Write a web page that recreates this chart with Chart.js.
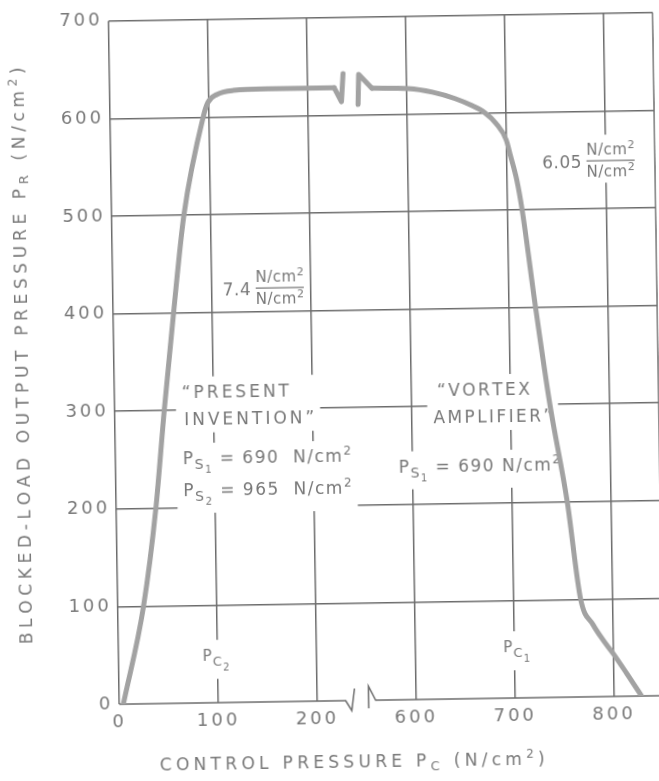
<!DOCTYPE html>
<html>
<head>
<meta charset="utf-8">
<script src="https://cdn.jsdelivr.net/npm/chart.js@4.4.1/dist/chart.umd.min.js"></script>
<style>
  html, body { margin: 0; padding: 0; background: #fff; }
  /* the scanned sheet sits a little crooked */
  #sheet { position: absolute; left: 0; top: 0; width: 659px; height: 781px;
           transform: rotate(-0.9deg); transform-origin: 385px 360px; }
</style>
</head>
<body>
<div id="sheet"><canvas id="myChart" width="659" height="781"></canvas></div>
<script>
// control pressure Pc (N/cm2) -> blocked-load output pressure Pr (N/cm2)
const inventionPc = [4, 26, 40, 50, 61, 73, 94, 99, 108, 125, 159, 210, 227];
const inventionPr = [0, 100, 200, 300, 400, 500, 600, 615, 623, 627, 628, 628, 628];

const vortexPc = [565, 602, 626, 649, 665, 679, 690, 700, 704, 710, 715, 727, 740, 756, 768, 780, 790, 800, 813, 828];
const vortexPr = [627, 626, 622, 615, 608, 600, 589, 572, 556, 531, 500, 400, 300, 200, 100, 74, 58, 44, 24, 0];

const xTicks = [0, 100, 200, 600, 700, 800];
const yTicks = [0, 100, 200, 300, 400, 500, 600, 700];

// the Pc axis is broken between 200 and 600
function axisPos(pc) { return pc < 400 ? pc / 100 : (pc - 300) / 100; }
const breakPos = 2.44;

const ink = '#6c6c6c';
const textInk = '#787878';
const curveInk = '#a2a2a2';
const FONT = '"DejaVu Sans"';

// text helpers: runs are [text, size, dy]
function runsWidth(ctx, runs, sp) {
  let w = 0;
  for (const [t, size] of runs) {
    ctx.font = size + 'px ' + FONT;
    for (const ch of t) w += ctx.measureText(ch).width + sp;
  }
  return w - sp;
}
function drawRuns(ctx, runs, x, base, sp) {
  for (const [t, size, dy = 0] of runs) {
    ctx.font = size + 'px ' + FONT;
    for (const ch of t) {
      ctx.fillText(ch, x, base + dy);
      x += ctx.measureText(ch).width + sp;
    }
  }
  return x - sp;
}
function countChars(runs) { return runs.reduce((n, r) => n + [...r[0]].length, 0); }

const sub = (t, s, d) => [t, s, d];
const notes = [
  { pc: 68, pr: 319, gap: 27, sp: 3, lines: [
      { dx: 0, runs: [['“PRESENT', 17]] },
      { dx: 2, runs: [['INVENTION”', 17]] } ] },
  { pc: 68, pr: 251, gap: 32, sp: 1.5, lines: [
      { dx: 0, runs: [['P', 17], sub('S', 14, 5), sub('1', 10, 9), [' = 690  N/cm', 17], sub('2', 12, -7)] },
      { dx: 0, runs: [['P', 17], sub('S', 14, 5), sub('2', 10, 9), [' = 965  N/cm', 17], sub('2', 12, -7)] } ] },
  { pc: 622, pr: 289, gap: -27, sp: 2.4, lines: [
      { dx: 0, runs: [['AMPLIFIER”', 17]] },
      { dx: 4, runs: [['“VORTEX', 17]] } ] },
  { pc: 586, pr: 239, gap: 0, sp: 1.5, lines: [
      { dx: 0, runs: [['P', 17], sub('S', 14, 5), sub('1', 10, 9), [' = 690 N/cm', 17], sub('2', 12, -7)] } ] },
  { pc: 85, pr: 49, gap: 0, sp: 1, lines: [
      { dx: 0, runs: [['P', 15], sub('C', 13, 5), sub('2', 10, 10)] } ] },
  { pc: 689, pr: 53, gap: 0, sp: 1, lines: [
      { dx: 0, runs: [['P', 15], sub('C', 13, 5), sub('1', 10, 10)] } ] }
];
const ratios = [
  { pc: 111, pr: 423, value: '7.4' },
  { pc: 736, pr: 548, value: '6.05' }
];
const unitRuns = [['N/cm', 15], ['2', 11, -6]];

function drawNote(ctx, chart, note) {
  const x0 = chart.scales.x.getPixelForValue(axisPos(note.pc));
  const y0 = chart.scales.y.getPixelForValue(note.pr);
  let left = Infinity, right = -Infinity, top = Infinity, bottom = -Infinity;
  const placed = note.lines.map((ln, i) => {
    const cy = y0 + i * note.gap;
    const lx = x0 + ln.dx;
    const w = runsWidth(ctx, ln.runs, note.sp);
    const maxDy = Math.max(0, ...ln.runs.map(r => r[2] || 0));
    left = Math.min(left, lx); right = Math.max(right, lx + w);
    top = Math.min(top, cy - 9); bottom = Math.max(bottom, cy + 8 + maxDy);
    return { lx, cy, ln };
  });
  const pad = 6;
  ctx.fillStyle = '#fff';
  ctx.fillRect(left - pad, top - pad, right - left + 2 * pad, bottom - top + 2 * pad);
  ctx.fillStyle = textInk;
  placed.forEach(p => drawRuns(ctx, p.ln.runs, p.lx, p.cy + 6, note.sp));
}

function drawRatio(ctx, chart, r) {
  const x0 = chart.scales.x.getPixelForValue(axisPos(r.pc));
  const y0 = chart.scales.y.getPixelForValue(r.pr);
  const pre = [[r.value, 17]];
  const pw = runsWidth(ctx, pre, 0.5);
  const fx = x0 + pw + 5;
  const fw = runsWidth(ctx, unitRuns, 0.5);
  ctx.fillStyle = '#fff';
  ctx.fillRect(x0 - 6, y0 - 27, fx + fw - x0 + 12, 48);
  ctx.fillStyle = textInk;
  drawRuns(ctx, pre, x0, y0 + 6, 0.5);
  drawRuns(ctx, unitRuns, fx, y0 - 13 + 5.5, 0.5);
  drawRuns(ctx, unitRuns, fx, y0 + 9 + 5.5, 0.5);
  ctx.strokeStyle = textInk;
  ctx.lineWidth = 1.4;
  ctx.beginPath();
  ctx.moveTo(fx, y0 - 1);
  ctx.lineTo(fx + fw, y0 - 1);
  ctx.stroke();
}

function drawTitle(ctx, runs, cx, cy, targetWidth, angle) {
  const n = countChars(runs);
  const natural = runsWidth(ctx, runs, 0);
  const sp = (targetWidth - natural) / (n - 1);
  ctx.save();
  ctx.translate(cx, cy);
  ctx.rotate(angle);
  ctx.fillStyle = textInk;
  drawRuns(ctx, runs, -targetWidth / 2, 6, sp);
  ctx.restore();
}

const patentDecor = {
  id: 'patentDecor',
  beforeDraw(chart) { chart.ctx.letterSpacing = '3px'; },
  beforeDatasetsDraw(chart) {
    const ctx = chart.ctx;
    const a = chart.chartArea;
    const xs = chart.scales.x, ys = chart.scales.y;
    ctx.save();
    ctx.letterSpacing = '0px';
    ctx.textBaseline = 'alphabetic';
    ctx.textAlign = 'left';

    // right border
    ctx.strokeStyle = ink;
    ctx.lineWidth = 1.5;
    ctx.beginPath();
    ctx.moveTo(a.right, a.top);
    ctx.lineTo(a.right, a.bottom);
    ctx.stroke();

    // bottom axis with break marks
    const bx = xs.getPixelForValue(breakPos);
    const by = ys.getPixelForValue(0);
    ctx.beginPath();
    ctx.moveTo(a.left, by);
    ctx.lineTo(bx - 15, by);
    ctx.lineTo(bx - 9, by + 10);
    ctx.lineTo(bx - 6, by - 12);
    ctx.moveTo(bx + 8, by + 8);
    ctx.lineTo(bx + 8, by - 14);
    ctx.lineTo(bx + 15, by);
    ctx.lineTo(a.right, by);
    ctx.stroke();

    notes.forEach(n => drawNote(ctx, chart, n));
    ratios.forEach(r => drawRatio(ctx, chart, r));

    // axis titles
    drawTitle(ctx, [['BLOCKED-LOAD OUTPUT PRESSURE P', 17], ['R', 13, 3], [' (N/cm', 17], ['2', 12, -7], [')', 17]],
      22, 350, 577, -Math.PI / 2);
    drawTitle(ctx, [['CONTROL PRESSURE P', 17], ['C', 13, 4], [' (N/cm', 17], ['2', 12, -7], [')', 17]],
      346, 761, 385, 0);
    ctx.restore();
  },
  afterDatasetsDraw(chart) {
    // break marks on the flat top of the curves
    const ctx = chart.ctx;
    const m0 = chart.getDatasetMeta(0).data;
    const m1 = chart.getDatasetMeta(1).data;
    const e = m0[m0.length - 1], s = m1[0];
    ctx.save();
    ctx.strokeStyle = curveInk;
    ctx.lineWidth = 5;
    ctx.lineCap = 'round';
    ctx.lineJoin = 'round';
    ctx.beginPath();
    ctx.moveTo(e.x, e.y);
    ctx.lineTo(e.x + 7, e.y + 14);
    ctx.lineTo(e.x + 9, e.y - 14);
    ctx.moveTo(s.x - 14, s.y + 16);
    ctx.lineTo(s.x - 13, s.y - 14);
    ctx.lineTo(s.x, s.y);
    ctx.stroke();
    ctx.restore();
  },
  afterDraw(chart) { chart.ctx.letterSpacing = '0px'; }
};

const tickFont = { family: 'DejaVu Sans', size: 18 };

const ctx = document.getElementById('myChart');
new Chart(ctx, {
  type: 'line',
  data: {
    datasets: [{
      label: 'Present invention',
      data: inventionPc.map((p, i) => ({ x: axisPos(p), y: inventionPr[i] })),
      borderColor: curveInk,
      borderWidth: 5,
      borderCapStyle: 'round',
      pointRadius: 0,
      cubicInterpolationMode: 'monotone',
      fill: false
    },
    {
      label: 'Vortex amplifier',
      data: vortexPc.map((p, i) => ({ x: axisPos(p), y: vortexPr[i] })),
      borderColor: curveInk,
      borderWidth: 5,
      borderCapStyle: 'round',
      pointRadius: 0,
      cubicInterpolationMode: 'monotone',
      fill: false
    }]
  },
  options: {
    responsive: false,
    animation: false,
    devicePixelRatio: 1,
    layout: { padding: { top: 13, right: 1, left: 0, bottom: 0 } },
    plugins: { legend: { display: false }, tooltip: { enabled: false } },
    scales: {
      x: {
        type: 'linear',
        min: 0,
        max: 5.5,
        afterBuildTicks: s => { s.ticks = xTicks.map(p => ({ value: axisPos(p) })); },
        afterFit: s => { s.height = 81; },
        ticks: {
          autoSkip: false,
          maxRotation: 0,
          padding: 8,
          color: textInk,
          font: tickFont,
          callback: v => {
            const i = xTicks.findIndex(p => Math.abs(axisPos(p) - v) < 1e-6);
            return i >= 0 ? String(xTicks[i]) : '';
          }
        },
        grid: { color: ink, lineWidth: 1.5, drawTicks: false },
        border: { display: false }
      },
      y: {
        min: 0,
        max: 700,
        afterBuildTicks: s => { s.ticks = yTicks.map(v => ({ value: v })); },
        afterFit: s => { s.width = 114; },
        ticks: { padding: 6, color: textInk, font: tickFont },
        grid: {
          color: c => (c.tick && c.tick.value === 0 ? 'rgba(0,0,0,0)' : ink),
          lineWidth: 1.5,
          drawTicks: false
        },
        border: { display: false }
      }
    }
  },
  plugins: [patentDecor]
});
</script>
</body>
</html>
